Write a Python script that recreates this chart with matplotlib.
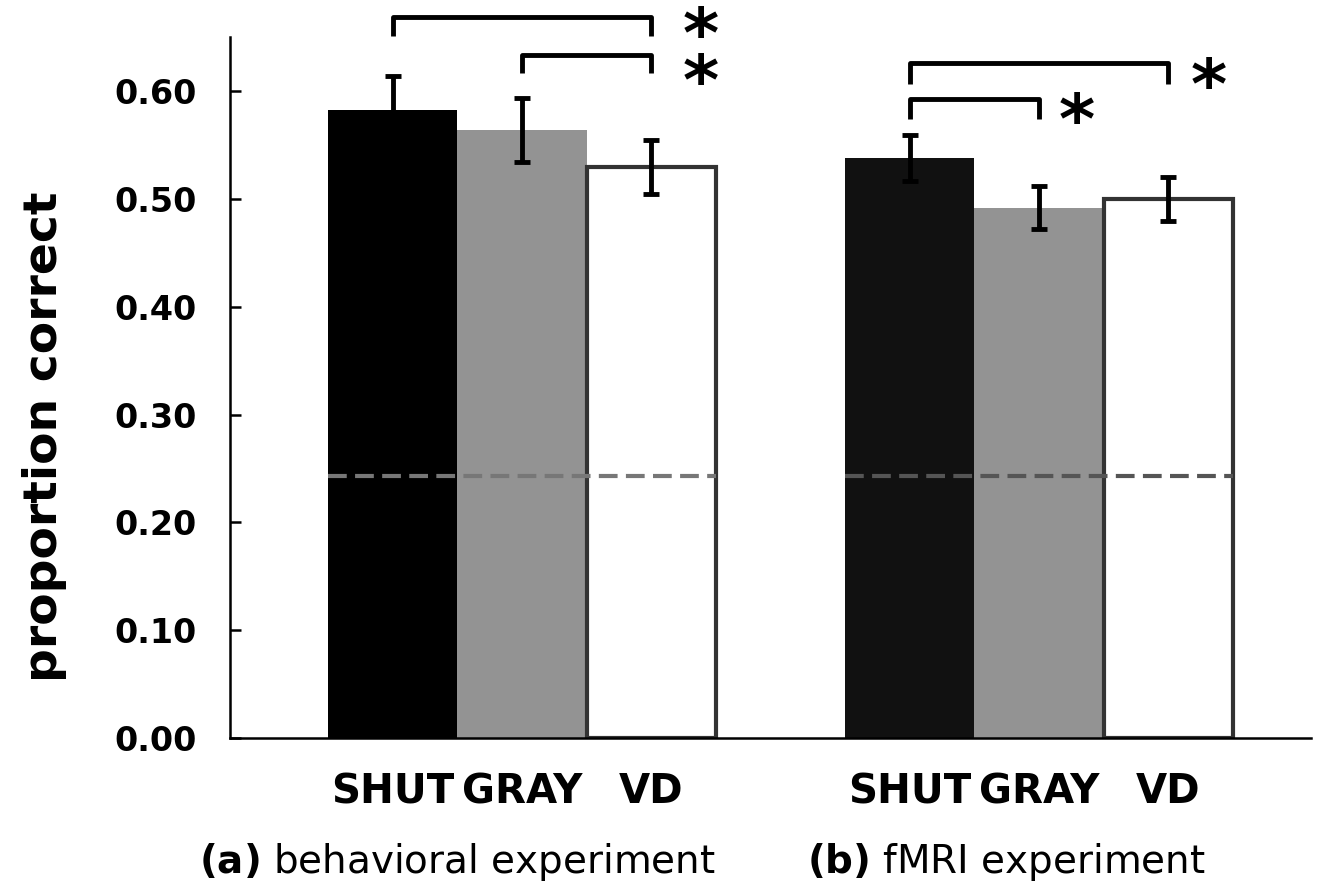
import matplotlib
matplotlib.use('Agg')
import matplotlib.pyplot as plt
import matplotlib.transforms as mtransforms

# bar values
conditions = ['SHUT', 'GRAY', 'VD']
behav_mean = [0.583, 0.564, 0.530]
behav_err = [0.031, 0.030, 0.025]
fmri_mean = [0.538, 0.492, 0.500]
fmri_err = [0.021, 0.020, 0.020]
chance = 0.243
group_titles = ['(a)', '(b)']
group_names = ['behavioral experiment', 'fMRI experiment']

# significance brackets: (group, from bar, to bar, top y, leg bottom y)
brackets = [(0, 0, 2, 0.669, 0.651), (0, 1, 2, 0.634, 0.617),
            (1, 0, 2, 0.626, 0.607), (1, 0, 1, 0.593, 0.574)]
# star marks: (group, x, y, text)
stars = [(0, 2.38, 0.628, '*\n*'), (1, 2.31, 0.603, '*'), (1, 1.29, 0.570, '*')]

offsets = [0, 4]
face = [['#000000', '#939393', 'white'], ['#111111', '#939393', 'white']]
edge = ['none', 'none', '#333333']
dash_col = ['#777777', '#555555']

fig = plt.figure(figsize=(13.36, 8.91), dpi=100)
ax = fig.add_axes([0.172, 0.172, 0.809, 0.786])

for g, (means, errs) in enumerate([(behav_mean, behav_err), (fmri_mean, fmri_err)]):
    xs = [offsets[g] + i for i in range(3)]
    for i in range(3):
        ax.bar(xs[i], means[i], width=1.0, color=face[g][i], edgecolor=edge[i],
               linewidth=3 if i == 2 else 0, zorder=2)
    ax.errorbar(xs, means, yerr=errs, fmt='none', ecolor='black', elinewidth=3.5,
                capsize=6, capthick=3.5, zorder=4)
    ax.plot([xs[0] - 0.5, xs[2] + 0.5], [chance, chance], ls=(0, (4.5, 2)),
            color=dash_col[g], lw=3, zorder=3)

for g, a, b, top, bot in brackets:
    x1, x2 = offsets[g] + a, offsets[g] + b
    ax.plot([x1, x1, x2, x2], [bot, top, top, bot], color='black', lw=3.5,
            solid_joinstyle='round', solid_capstyle='butt', clip_on=False)

for g, x, y, s in stars:
    ax.text(offsets[g] + x, y, s, fontsize=50, fontweight='bold', linespacing=0.62,
            ha='center', va='center', clip_on=False)

ax.set_xlim(-1.26, 7.1)
ax.set_ylim(0, 0.65)
ax.set_yticks([0, 0.1, 0.2, 0.3, 0.4, 0.5, 0.6])
ax.set_yticklabels(['%.2f' % v for v in ax.get_yticks()], fontsize=24, fontweight='bold')
ax.tick_params(axis='y', direction='in', length=8, width=1.8, pad=24)
ax.set_xticks([0, 1, 2, 4, 5, 6])
ax.set_xticklabels(conditions * 2, fontsize=29, fontweight='bold')
ax.tick_params(axis='x', length=0, pad=25)
for s in ['top', 'right']:
    ax.spines[s].set_visible(False)
for s in ['left', 'bottom']:
    ax.spines[s].set_linewidth(1.8)

fig.text(45 / 1336, 0.51, 'proportion correct', rotation=90, fontsize=34,
         fontweight='bold', ha='center', va='center')

trans = mtransforms.blended_transform_factory(ax.transData, fig.transFigure)
for g in range(2):
    ax.text(offsets[g] + 0.5 + 0.25 * g, 0.032,
            r'$\mathbf{%s}$ %s' % (group_titles[g], group_names[g]),
            transform=trans, fontsize=28, ha='center', va='center')

fig.savefig('out.png', dpi=100)
